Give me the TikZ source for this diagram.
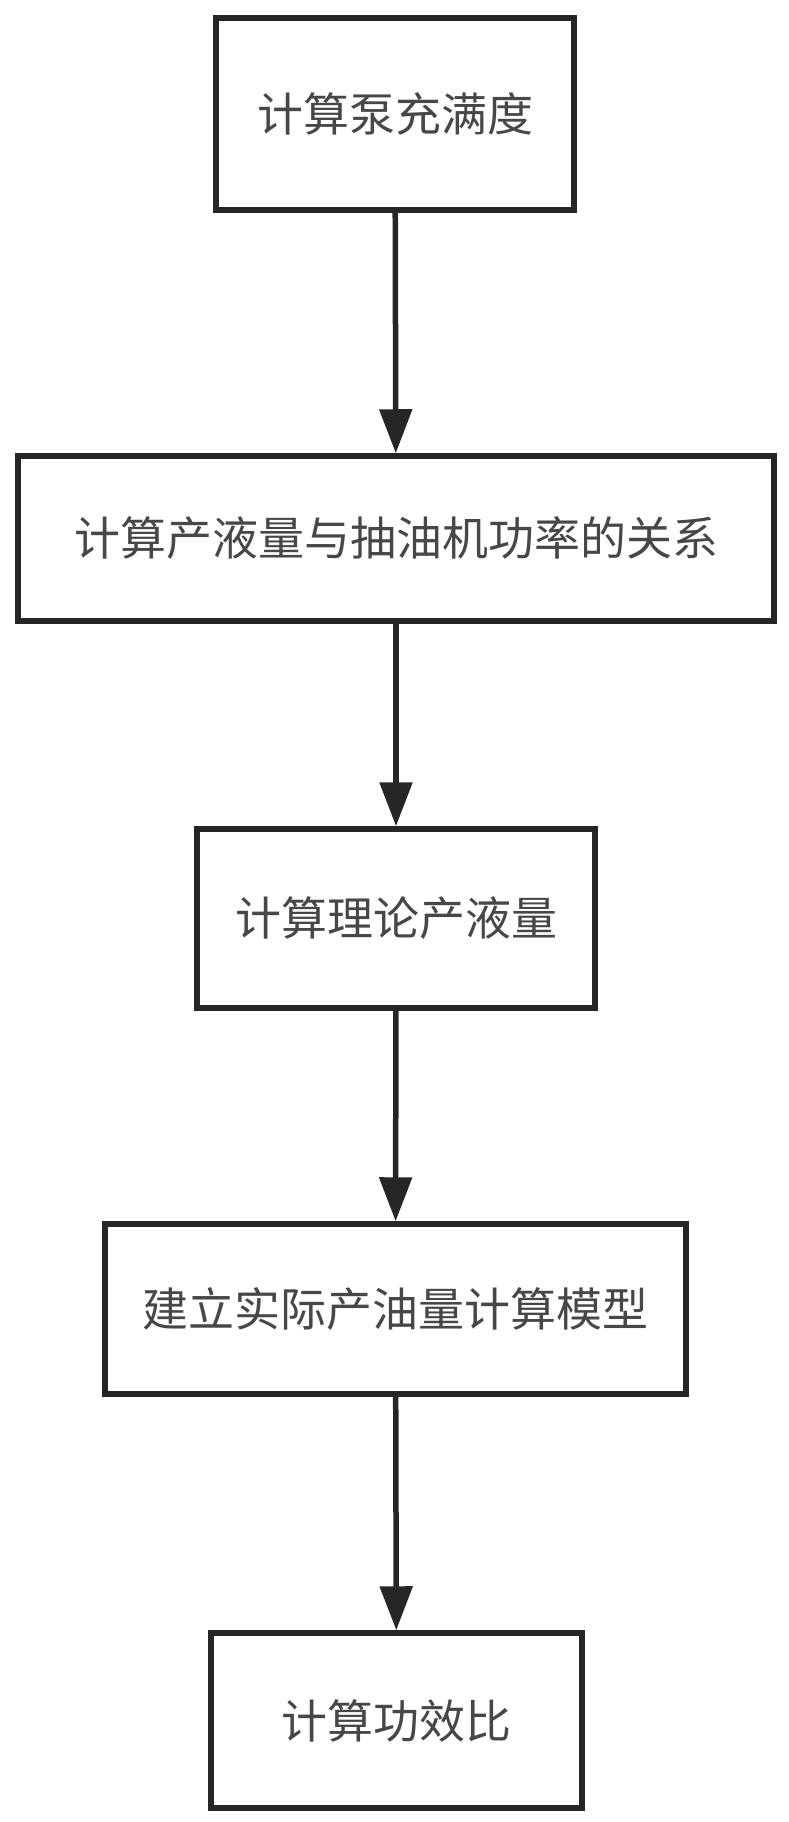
\documentclass[tikz,border=0pt]{standalone}
\usepackage{fontspec}
\newfontfamily\cjk{Noto Sans CJK SC}
\usetikzlibrary{arrows.meta}
\definecolor{linegray}{HTML}{262626}
\definecolor{textgray}{HTML}{474747}
\tikzset{
    stepbox/.style={draw=linegray, line width=5.5pt, inner sep=0pt,
        text=textgray, font=\cjk\fontsize{46}{54}\selectfont},
    flow/.style={draw=linegray, line width=5.5pt,
        -{Triangle[length=44pt, width=32pt]}}
}

\begin{document}
\begin{tikzpicture}[x=1pt, y=1pt]
    \useasboundingbox (0, 0) rectangle (789, -1822);
    \node [stepbox, minimum width=358pt, minimum height=192pt] (fill) at (395, -114) {计算泵充满度};
    \node [stepbox, minimum width=756pt, minimum height=165pt] (power) at (396, -538.5) {计算产液量与抽油机功率的关系};
    \node [stepbox, minimum width=398pt, minimum height=179pt] (theory) at (396, -918.5) {计算理论产液量};
    \node [stepbox, minimum width=581pt, minimum height=170pt] (model) at (395.5, -1309) {建立实际产油量计算模型};
    \node [stepbox, minimum width=371pt, minimum height=175pt] (ratio) at (396.5, -1720.5) {计算功效比};
    \draw [flow] (fill) -- (power);
    \draw [flow] (power) -- (theory);
    \draw [flow] (theory) -- (model);
    \draw [flow] (model) -- (ratio);
\end{tikzpicture}
\end{document}
